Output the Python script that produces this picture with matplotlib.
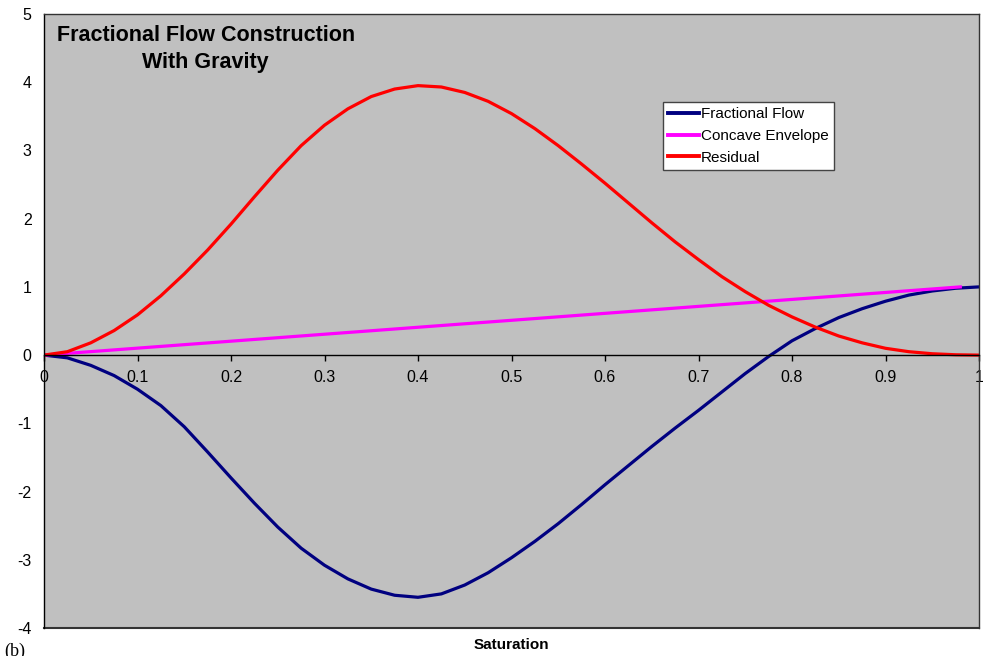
import matplotlib
matplotlib.use("Agg")
import matplotlib.pyplot as plt

plt.rcParams['font.family'] = ['Liberation Sans', 'DejaVu Sans']
plt.rcParams['axes.unicode_minus'] = False

# values
saturation = [0.0, 0.025, 0.05, 0.075, 0.1, 0.125, 0.15, 0.175, 0.2, 0.225, 0.25,
              0.275, 0.3, 0.325, 0.35, 0.375, 0.4, 0.425, 0.45, 0.475, 0.5,
              0.525, 0.55, 0.575, 0.6, 0.625, 0.65, 0.675, 0.7, 0.725, 0.75,
              0.775, 0.8, 0.825, 0.85, 0.875, 0.9, 0.925, 0.95, 0.975, 1.0]
frac_flow = [0.0, -0.04, -0.15, -0.30, -0.50, -0.74, -1.05, -1.42, -1.80, -2.17, -2.52,
             -2.83, -3.08, -3.28, -3.43, -3.52, -3.55, -3.50, -3.37, -3.19, -2.97,
             -2.73, -2.47, -2.19, -1.90, -1.62, -1.34, -1.07, -0.81, -0.54, -0.27,
             -0.02, 0.21, 0.39, 0.55, 0.68, 0.79, 0.88, 0.94, 0.98, 1.0]
residual = [0.0, 0.05, 0.18, 0.36, 0.59, 0.87, 1.19, 1.54, 1.92, 2.32, 2.71,
            3.07, 3.37, 3.61, 3.79, 3.90, 3.95, 3.93, 3.85, 3.72, 3.54,
            3.32, 3.07, 2.80, 2.52, 2.23, 1.94, 1.66, 1.40, 1.15, 0.93,
            0.73, 0.56, 0.41, 0.28, 0.18, 0.10, 0.05, 0.02, 0.005, 0.0]
env_sat = [0.0, 0.98]
env_val = [0.0, 1.0]

x_ticks = [0, 0.1, 0.2, 0.3, 0.4, 0.5, 0.6, 0.7, 0.8, 0.9, 1]
x_labels = ['0', '0.1', '0.2', '0.3', '0.4', '0.5', '0.6', '0.7', '0.8', '0.9', '1']
y_ticks = [-4, -3, -2, -1, 0, 1, 2, 3, 4, 5]

W, H = 983, 656
fig = plt.figure(figsize=(W / 100, H / 100), dpi=100)
ax = fig.add_axes([44 / W, (H - 628) / H, 935 / W, 614 / H])
ax.set_facecolor('#C0C0C0')

ax.plot(saturation, frac_flow, color='#000080', lw=2.3, label='Fractional Flow')
ax.plot(env_sat, env_val, color='#FF00FF', lw=2.3, label='Concave Envelope')
ax.plot(saturation, residual, color='#FF0000', lw=2.3, label='Residual')

ax.set_xlim(0, 1)
ax.set_ylim(-4, 5)

# x axis crosses at zero, like Excel
ax.spines['bottom'].set_position(('data', 0))
ax.spines['bottom'].set_color('black')
ax.spines['bottom'].set_linewidth(1.0)
ax.spines['left'].set_color('black')
ax.spines['left'].set_linewidth(1.0)
for side in ['top', 'right']:
    ax.spines[side].set_color('#333333')
    ax.spines[side].set_linewidth(1.0)
# bottom frame edge
ax.plot([0, 1], [0, 0], transform=ax.transAxes, color='#333333', lw=1.5, clip_on=False)

ax.set_xticks(x_ticks)
ax.set_xticklabels(x_labels)
ax.set_yticks(y_ticks)
ax.tick_params(axis='x', direction='out', length=4, width=1, pad=7, labelsize=11.5)
ax.tick_params(axis='y', length=0, pad=9, labelsize=11.5)

ax.text(0.173, 0.943, 'Fractional Flow Construction\nWith Gravity', transform=ax.transAxes,
        ha='center', va='center', fontsize=15.5, fontweight='bold', linespacing=1.4)

leg = ax.legend(loc='upper left', bbox_to_anchor=(619 / 935, (628 - 102) / 614),
                fontsize=11, frameon=True, fancybox=False, handlelength=2.0,
                handletextpad=0.15, borderpad=0.35, labelspacing=0.5,
                borderaxespad=0)
leg.get_frame().set_edgecolor('#444444')
leg.get_frame().set_linewidth(1.0)
leg.get_frame().set_facecolor('white')
leg.get_frame().set_alpha(1)
for line in leg.get_lines():
    line.set_linewidth(2.8)

fig.text(511 / W, (H - 645) / H, 'Saturation', ha='center', va='center',
         fontsize=11, fontweight='bold')
fig.text(4 / W, (H - 643) / H, '(b)', ha='left', va='top',
         fontsize=13, family=['Liberation Serif', 'DejaVu Serif'])

fig.savefig('out.png', dpi=100)
